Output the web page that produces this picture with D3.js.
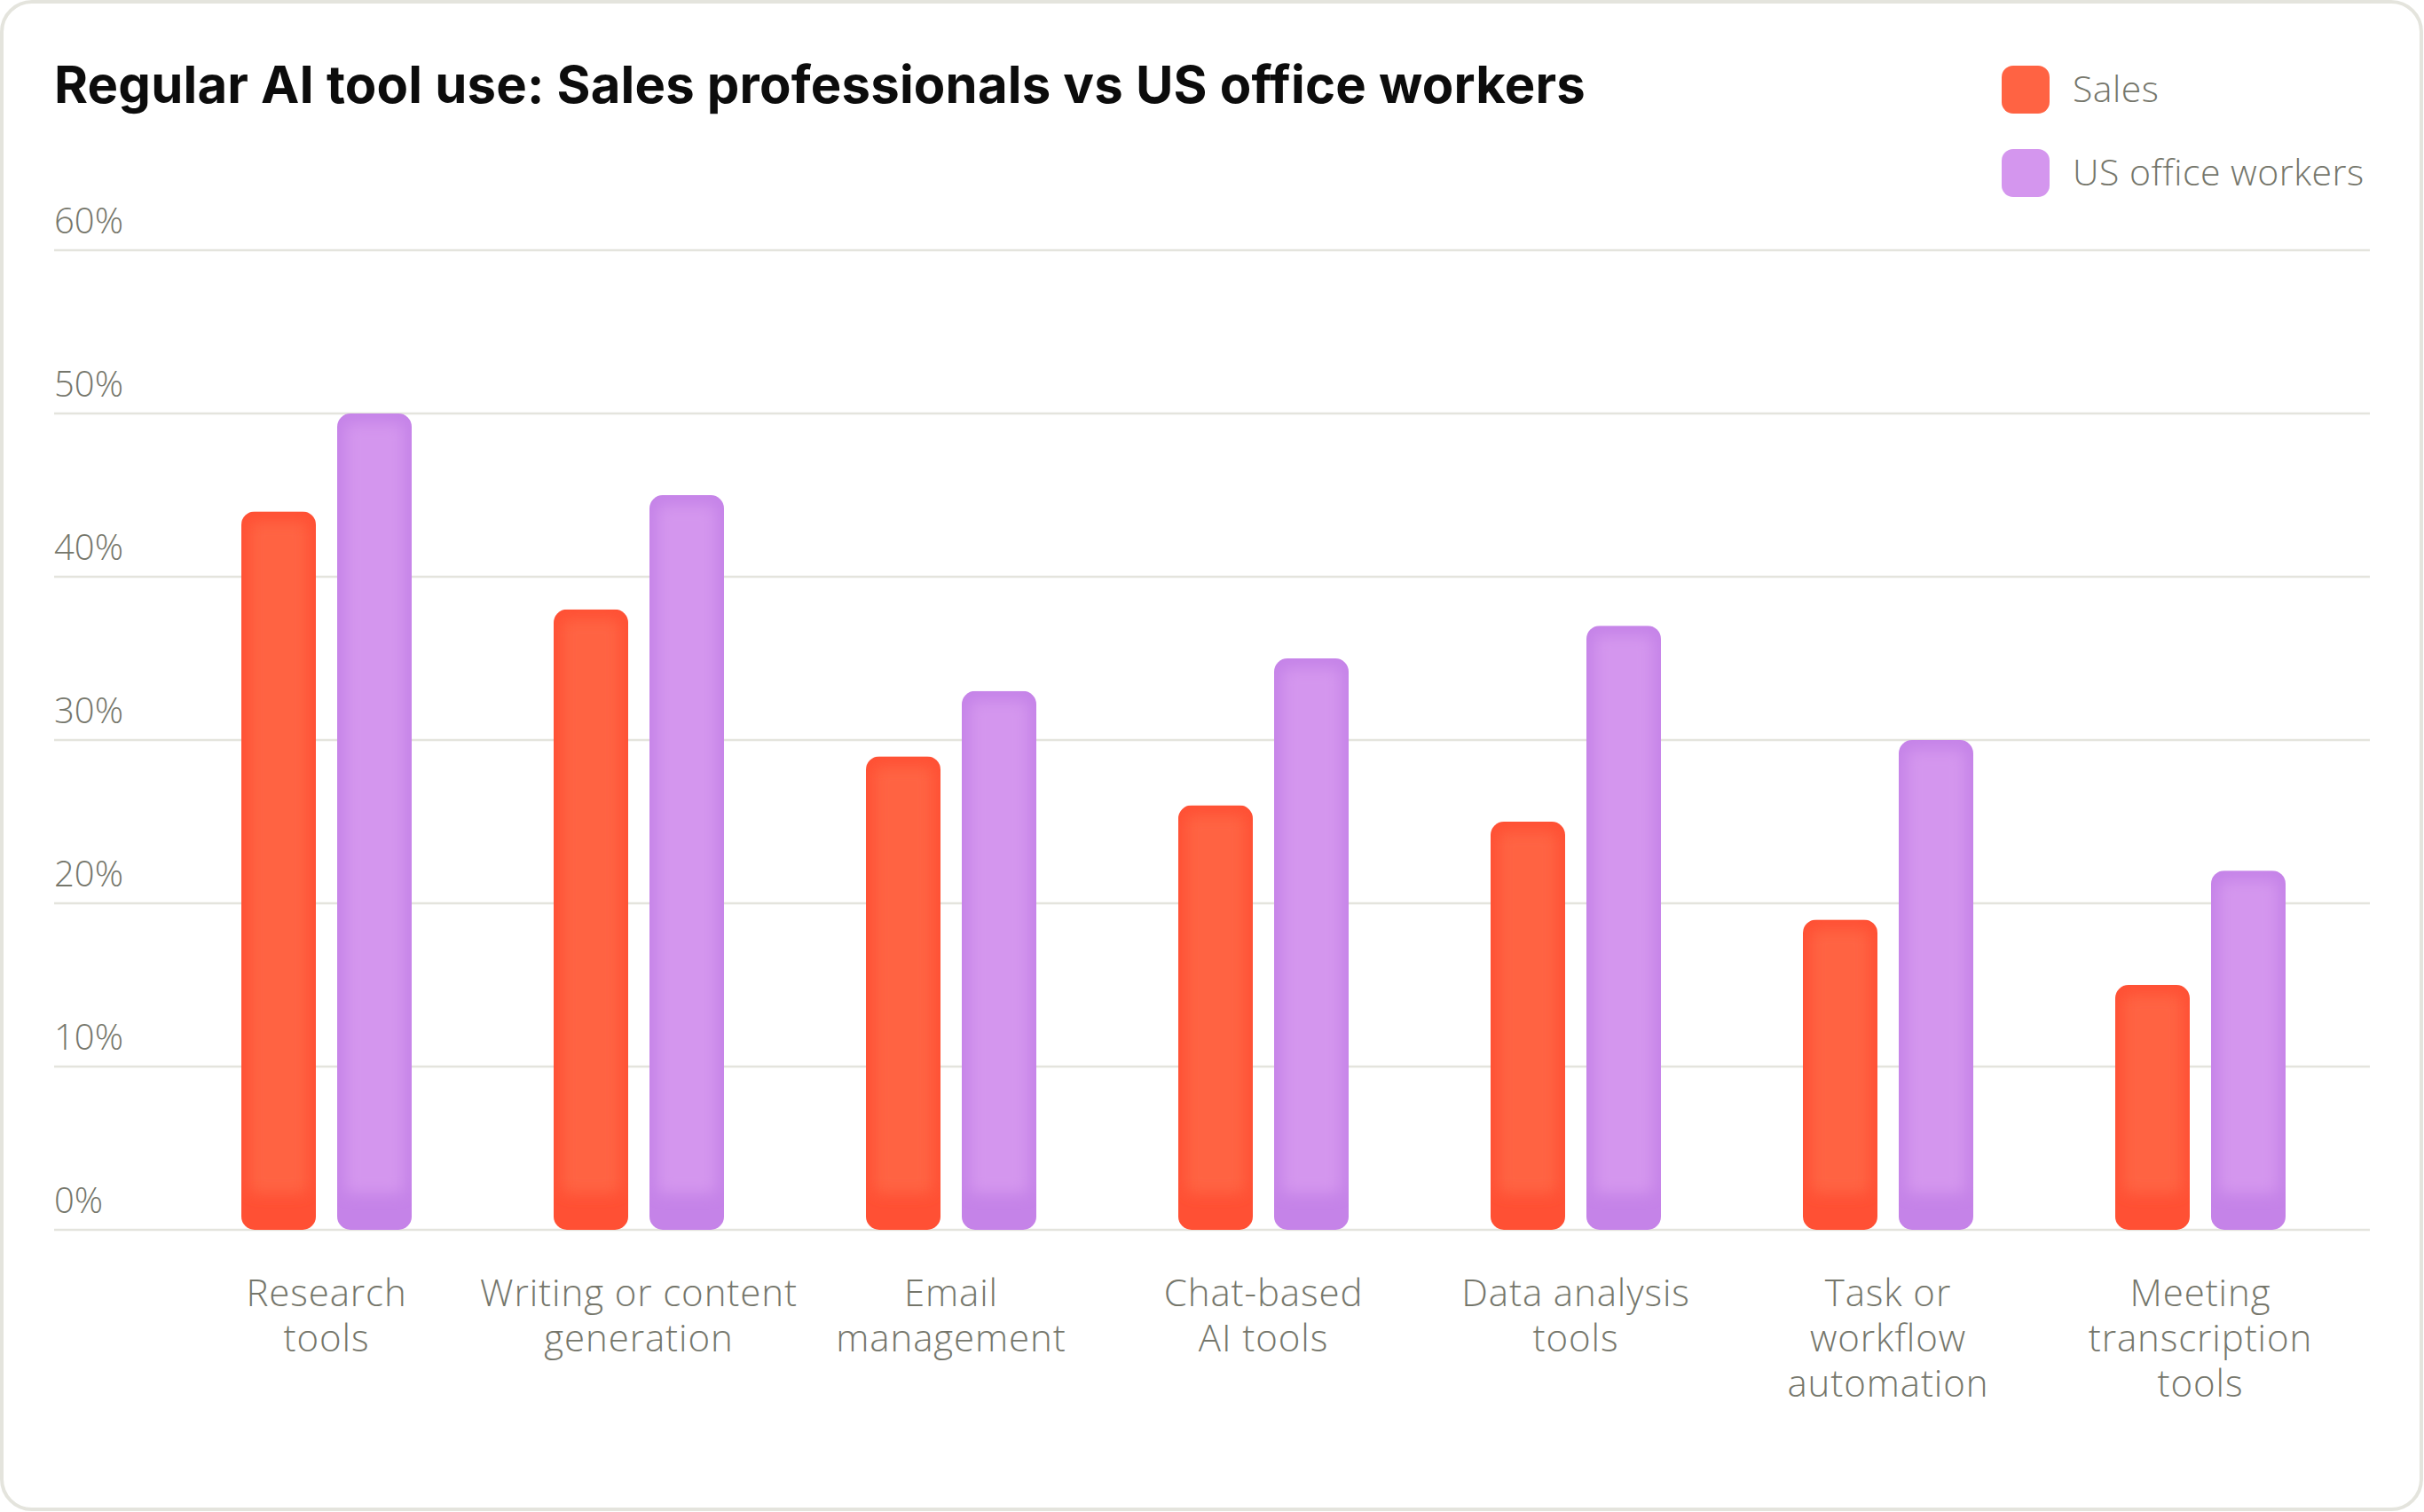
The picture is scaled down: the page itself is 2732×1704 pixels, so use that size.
<!DOCTYPE html>
<html>
<head>
<meta charset="utf-8">
<script src="https://cdn.jsdelivr.net/npm/d3@7"></script>
<style>
  html, body { margin: 0; padding: 0; background: #fff; }
  svg { display: block; }
</style>
</head>
<body>
<div id="chart"></div>
<script>
const categories = [
  ["Research", "tools"],
  ["Writing or content", "generation"],
  ["Email", "management"],
  ["Chat-based", "AI tools"],
  ["Data analysis", "tools"],
  ["Task or", "workflow", "automation"],
  ["Meeting", "transcription", "tools"]
];
const seriesNames = ["Sales", "US office workers"];
const salesValues = [44, 38, 29, 26, 25, 19, 15];
const officeValues = [50, 45, 33, 35, 37, 30, 22];
const yTicks = [0, 10, 20, 30, 40, 50, 60];

const width = 2732, height = 1704;
const gray = "#75766b";
const gridColor = "#e4e4dd";
const colors = { "Sales": ["#ff6343", "#ff5034"], "US office workers": ["#d496ee", "#c583e8"] };

const svg = d3.select("#chart").append("svg")
  .attr("width", width)
  .attr("height", height);

const defs = svg.append("defs");
defs.append("filter").attr("id", "soft")
  .attr("x", "-20%").attr("y", "-20%").attr("width", "140%").attr("height", "140%")
  .append("feGaussianBlur").attr("stdDeviation", 8);

// card
svg.append("rect")
  .attr("x", 2).attr("y", 2)
  .attr("width", width - 5).attr("height", height - 5)
  .attr("rx", 34)
  .attr("fill", "#fff")
  .attr("stroke", gridColor)
  .attr("stroke-width", 4);

svg.append("text")
  .attr("x", 61).attr("y", 116)
  .attr("font-family", "Inter, sans-serif")
  .attr("font-weight", 700)
  .attr("font-size", 58)
  .attr("letter-spacing", 0.2)
  .attr("fill", "#0c0c0c")
  .text("Regular AI tool use: Sales professionals vs US office workers");

const y = d3.scaleLinear().domain([0, 60]).range([1386, 282]);

const x0 = d3.scaleBand()
  .domain(d3.range(categories.length))
  .range([192, 2656])
  .paddingInner(0.4545)
  .paddingOuter(0.2273);

const x1 = d3.scaleBand()
  .domain(seriesNames)
  .range([0, x0.bandwidth()])
  .paddingInner(0.2222);

// grid + y labels
const grid = svg.append("g");
grid.selectAll("line")
  .data(yTicks)
  .join("line")
  .attr("x1", 61).attr("x2", 2671)
  .attr("y1", d => y(d)).attr("y2", d => y(d))
  .attr("stroke", gridColor)
  .attr("stroke-width", 2.5);

grid.selectAll("text")
  .data(yTicks)
  .join("text")
  .attr("x", 61)
  .attr("y", d => y(d) - 19)
  .attr("font-family", "'Open Sans', sans-serif")
  .attr("font-weight", 300)
  .attr("font-size", 40)
  .attr("fill", gray)
  .text(d => d + "%");

// bars
const rows = categories.map((c, i) => ({ i, values: [
  { key: "Sales", value: salesValues[i] },
  { key: "US office workers", value: officeValues[i] }
]}));

const group = svg.append("g").selectAll("g")
  .data(rows)
  .join("g");

group.each(function(row) {
  const g = d3.select(this);
  row.values.forEach(v => {
    const bx = x0(row.i) + x1(v.key), bw = x1.bandwidth();
    const by = y(v.value), bh = y(0) - y(v.value);
    const id = `clip-${row.i}-${v.key.replace(/\s/g, "")}`;
    defs.append("clipPath").attr("id", id)
      .append("rect")
      .attr("x", bx).attr("y", by)
      .attr("width", bw).attr("height", bh)
      .attr("rx", 15);
    const bar = g.append("g").attr("clip-path", `url(#${id})`);
    bar.append("rect")
      .attr("x", bx).attr("y", by)
      .attr("width", bw).attr("height", bh)
      .attr("fill", colors[v.key][1]);
    bar.append("rect")
      .attr("x", bx + 9).attr("y", by + 11)
      .attr("width", bw - 18).attr("height", Math.max(0, bh - 52))
      .attr("rx", 8)
      .attr("fill", colors[v.key][0])
      .attr("filter", "url(#soft)");
  });
});

// x labels
const labels = svg.append("g").selectAll("text")
  .data(categories)
  .join("text")
  .attr("x", (d, i) => x0(i) + x0.bandwidth() / 2)
  .attr("y", 1472)
  .attr("text-anchor", "middle")
  .attr("font-family", "'Open Sans', sans-serif")
  .attr("font-weight", 300)
  .attr("font-size", 42)
  .attr("letter-spacing", 0.9)
  .attr("fill", gray);

labels.selectAll("tspan")
  .data(d => d)
  .join("tspan")
  .attr("x", function() { return d3.select(this.parentNode).attr("x"); })
  .attr("dy", (d, i) => i === 0 ? 0 : 51)
  .text(d => d);

// legend
const legend = svg.append("g").selectAll("g")
  .data(seriesNames)
  .join("g")
  .attr("transform", (d, i) => `translate(2256,${74 + i * 94})`);

legend.append("rect")
  .attr("width", 54).attr("height", 54)
  .attr("rx", 13)
  .attr("fill", d => colors[d][0]);

legend.append("text")
  .attr("x", 80).attr("y", 41)
  .attr("font-family", "'Open Sans', sans-serif")
  .attr("font-weight", 300)
  .attr("font-size", 41)
  .attr("letter-spacing", 0.5)
  .attr("fill", gray)
  .text(d => d);
</script>
</body>
</html>
